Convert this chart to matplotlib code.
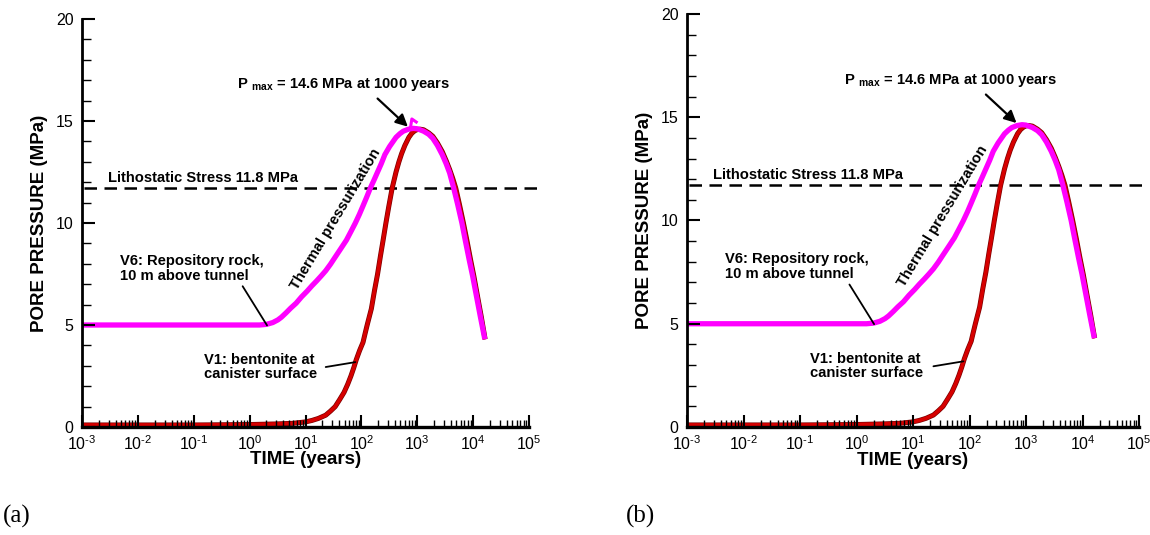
"""Pore pressure evolution at V1 (bentonite) and V6 (repository rock), two cases."""
import matplotlib
matplotlib.use("Agg")
import matplotlib.pyplot as plt
import numpy as np
from matplotlib.ticker import LogLocator, MultipleLocator, FuncFormatter

plt.rcParams["font.family"] = ["Liberation Sans", "DejaVu Sans"]
plt.rcParams["mathtext.fontset"] = "custom"
plt.rcParams["mathtext.rm"] = "Liberation Sans"
plt.rcParams["mathtext.bf"] = "Liberation Sans:bold"

# V1: bentonite at canister surface (years, MPa)
v1_time = [1e-3, 1e-2, 1e-1, 1, 3, 6, 10, 13, 17, 23, 28, 34, 41, 49, 57, 65, 73, 81,
           93, 107, 117, 127, 151, 172, 195, 220, 245, 275, 309, 355, 417, 470, 525,
           600, 708, 800, 900, 1000, 1120, 1300, 1600, 1900, 2300, 2800, 3300, 3800,
           4300, 4900, 5700, 6700, 7800, 9000, 10300, 12000, 14000, 16400]
v1_press = [0.1, 0.1, 0.1, 0.12, 0.15, 0.18, 0.25, 0.32, 0.42, 0.58, 0.78, 1.0, 1.35,
            1.7, 2.1, 2.5, 2.9, 3.3, 3.75, 4.15, 4.6, 5.0, 5.8, 6.7, 7.5, 8.4, 9.16,
            10.0, 10.8, 11.7, 12.5, 13.0, 13.4, 13.8, 14.2, 14.4, 14.52, 14.58, 14.6,
            14.57, 14.42, 14.25, 13.92, 13.5, 13.05, 12.62, 12.2, 11.7, 10.9, 10.0, 9.1,
            8.2, 7.4, 6.4, 5.4, 4.3]

# V6: repository rock, 10 m above tunnel
v6_time = [1e-3, 1e-2, 1e-1, 1, 1.5, 2.0, 2.6, 3.2, 3.7, 4.5, 5.4, 6.8, 8.5, 10.7, 13,
           15.8, 19, 23, 28, 34, 43, 54, 65, 78, 92, 107, 125, 144, 168, 195, 228, 263,
           320, 417, 490, 562, 700, 850, 1000, 1300, 1600, 1900, 2300, 2800, 3300,
           3800, 4500, 5300, 6300, 7300, 8500, 9800, 11500, 13500, 16200]
v6_press = [5.0, 5.0, 5.0, 5.0, 5.0, 5.03, 5.12, 5.25, 5.38, 5.6, 5.82, 6.07, 6.38, 6.66,
            6.92, 7.16, 7.4, 7.66, 7.98, 8.33, 8.75, 9.16, 9.58, 10.0, 10.42, 10.84,
            11.28, 11.7, 12.1, 12.5, 12.92, 13.35, 13.75, 14.2, 14.38, 14.5, 14.6,
            14.64, 14.62, 14.5, 14.35, 14.15, 13.8, 13.35, 12.9, 12.45, 11.7, 10.9,
            10.0, 9.1, 8.2, 7.4, 6.4, 5.4, 4.3]

# short kink in the V6 trace near the peak, run (a) only
v6_kink_time = [760, 800, 960]
v6_kink_press = [14.7, 15.1, 14.95]

litho_stress = 11.7
litho_time = [1.1e-3, 1.4e5]
p_max_text = r"P $_{\mathbf{max}}$ = 14.6 MPa at 1000 years"

panels = ["(a)", "(b)"]
axes_rects = [[82 / 1150, 108 / 535, 447 / 1150, 408 / 535],
              [687 / 1150, 108 / 535, 452 / 1150, 413 / 535]]
label_x = [3 / 1150, 626 / 1150]
FS = 10.6


def decade_label(x, pos):
    # hyphen rather than a minus sign in the exponent
    e = int(round(np.log10(x)))
    return r"$10^{\text{%d}}$" % e


fig = plt.figure(figsize=(11.5, 5.35), dpi=100)

for i, (name, rect) in enumerate(zip(panels, axes_rects)):
    ax = fig.add_axes(rect)
    ax.set_xscale("log")
    ax.set_xlim(1e-3, 1e5)
    ax.set_ylim(0, 20)

    ax.plot(v1_time, v1_press, color="#7a0000", lw=3.6, solid_capstyle="butt", zorder=2)
    ax.plot(v1_time, v1_press, color="#d60000", lw=2.6, solid_capstyle="butt", zorder=2)
    ax.plot(v6_time, v6_press, color="#ff00ff", lw=3.8, solid_capstyle="butt", zorder=2.1)
    if i == 0:
        ax.plot(v6_kink_time, v6_kink_press, color="#ff00ff", lw=2.2, zorder=2.1)

    ax.plot(litho_time, [litho_stress] * 2, color="black", lw=1.8,
            linestyle=(0, (5, 3)), clip_on=False, zorder=1.5)

    ax.spines["top"].set_visible(False)
    ax.spines["right"].set_visible(False)
    ax.spines["left"].set_linewidth(2.0)
    ax.spines["bottom"].set_linewidth(2.4)
    ax.set_axisbelow(False)

    ax.xaxis.set_major_locator(LogLocator(base=10, numticks=20))
    ax.xaxis.set_minor_locator(LogLocator(base=10, subs=range(2, 10), numticks=20))
    ax.xaxis.set_major_formatter(FuncFormatter(decade_label))
    ax.yaxis.set_major_locator(MultipleLocator(5))
    ax.yaxis.set_minor_locator(MultipleLocator(1))
    ax.tick_params(which="major", direction="in", length=9, width=1.5, labelsize=11.5)
    ax.tick_params(axis="x", which="major", pad=5)
    ax.tick_params(axis="y", which="major", pad=6)
    ax.tick_params(which="minor", direction="in", length=5, width=1.0)
    ax.tick_params(axis="y", which="minor", length=6.5)

    ax.set_xlabel("TIME (years)", fontsize=13.5, fontweight="bold", va="center")
    ax.xaxis.set_label_coords(0.5, -33 / 408)
    ax.set_ylabel("PORE PRESSURE (MPa)", fontsize=13.5, fontweight="bold", va="center")
    ax.yaxis.set_label_coords(-42 / 447, 0.5)

    ax.text(0.6, 16.8, p_max_text, fontsize=FS, fontweight="bold", ha="left", va="center")
    ax.annotate("", xy=(680, 14.72), xytext=(195, 16.1),
                arrowprops=dict(arrowstyle="-|>", color="black", lw=1.6,
                                mutation_scale=18, shrinkA=0, shrinkB=0))

    ax.text(2.9e-3, 12.2, "Lithostatic Stress 11.8 MPa", fontsize=FS,
            fontweight="bold", ha="left", va="center")
    ax.text(34, 10.2, "Thermal pressurization", fontsize=FS, fontweight="bold",
            rotation=59, ha="center", va="center", rotation_mode="anchor")

    ax.text(4.8e-3, 7.78, "V6: Repository rock,\n10 m above tunnel", fontsize=FS,
            fontweight="bold", ha="left", va="center", linespacing=1.05)
    ax.annotate("", xy=(2.05, 4.98), xytext=(0.75, 6.9),
                arrowprops=dict(arrowstyle="-", color="black", lw=1.3,
                                shrinkA=0, shrinkB=0))

    ax.text(0.15, 2.95, "V1: bentonite at\ncanister surface", fontsize=FS,
            fontweight="bold", ha="left", va="center", linespacing=1.05)
    ax.annotate("", xy=(78, 3.18), xytext=(23, 2.94),
                arrowprops=dict(arrowstyle="-", color="black", lw=1.3,
                                shrinkA=0, shrinkB=0))

    fig.text(label_x[i], 7 / 535, name, fontsize=18, family="Liberation Serif",
             ha="left", va="bottom")

fig.savefig("out.png", dpi=100)
